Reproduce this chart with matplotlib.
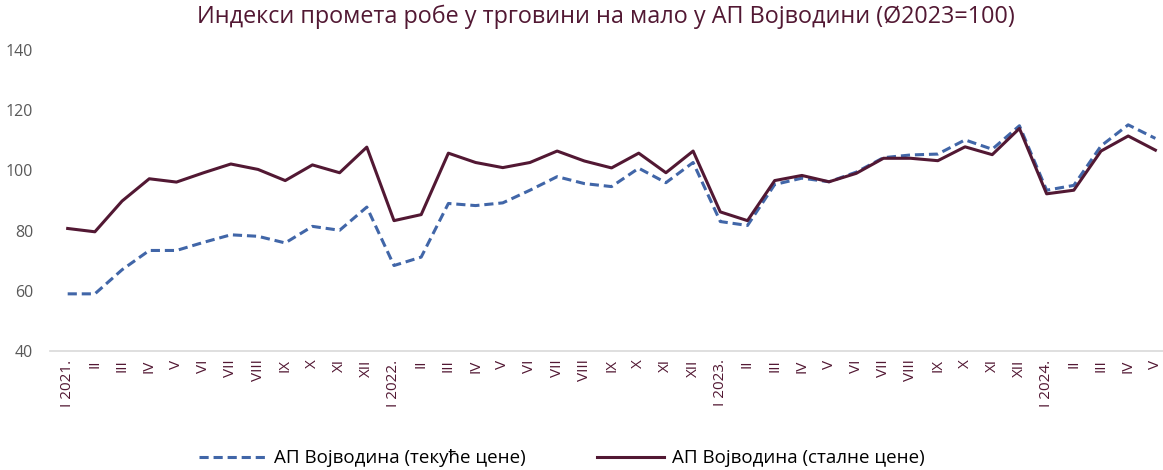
import numpy as np
import matplotlib
matplotlib.use('Agg')
import matplotlib.pyplot as plt

# Data: monthly indices, I 2021 - V 2024
months = ['I 2021.', 'II', 'III', 'IV', 'V', 'VI', 'VII', 'VIII', 'IX', 'X', 'XI', 'XII',
          'I 2022.', 'II', 'III', 'IV', 'V', 'VI', 'VII', 'VIII', 'IX', 'X', 'XI', 'XII',
          'I 2023.', 'II', 'III', 'IV', 'V', 'VI', 'VII', 'VIII', 'IX', 'X', 'XI', 'XII',
          'I 2024.', 'II', 'III', 'IV', 'V']

current_prices = [59.0, 59.0, 67.0, 73.4, 73.4, 76.1, 78.6, 78.1, 75.9, 81.4, 80.1, 87.8,
                  68.4, 71.2, 89.0, 88.3, 89.2, 93.4, 97.9, 95.6, 94.6, 100.7, 95.9, 102.6,
                  83.0, 81.7, 95.3, 97.4, 96.2, 99.4, 104.2, 105.1, 105.4, 110.1, 107.0, 114.8,
                  93.4, 95.0, 108.1, 115.1, 110.6]

constant_prices = [80.7, 79.6, 89.8, 97.2, 96.1, 99.2, 102.1, 100.3, 96.6, 101.8, 99.2, 107.7,
                   83.3, 85.3, 105.7, 102.6, 100.9, 102.6, 106.4, 103.1, 100.8, 105.7, 99.2, 106.4,
                   86.2, 83.3, 96.6, 98.3, 96.2, 99.0, 104.0, 104.0, 103.2, 107.8, 105.2, 113.9,
                   92.2, 93.4, 106.4, 111.4, 106.7]

maroon = '#521833'
blue = '#4166A8'

plt.rcParams['font.family'] = ['Open Sans', 'DejaVu Sans']

fig = plt.figure(figsize=(11.63, 4.70), dpi=100)
ax = fig.add_axes([0.043, 0.253, 0.957, 0.641])

x = np.arange(len(months))
ax.plot(x, current_prices, color=blue, lw=2.2, ls=(0, (3, 1.6)),
        label='АП Војводина (текуће цене)')
ax.plot(x, constant_prices, color=maroon, lw=2.2,
        label='АП Војводина (сталне цене)')

ax.set_xlim(-0.65, 40.28)
ax.set_ylim(40, 140)
ax.set_yticks([40, 60, 80, 100, 120, 140])
ax.set_xticks(x)
ax.set_xticklabels(months, rotation=90, color=maroon, fontsize=11)
ax.tick_params(axis='y', colors='#595959', labelsize=11.5, length=0, pad=12)
ax.tick_params(axis='x', length=0, pad=6)

for s in ['top', 'right', 'left']:
    ax.spines[s].set_visible(False)
ax.spines['bottom'].set_color('#D9D9D9')
ax.spines['bottom'].set_linewidth(1.2)

fig.suptitle('Индекси промета робе у трговини на мало у АП Војводини (Ø2023=100)',
             x=0.521, y=0.99, fontsize=16.8, color=maroon)

fig.legend(loc='lower center', bbox_to_anchor=(0.483, -0.03), ncol=2, frameon=False,
           fontsize=13.5, handlelength=3.6, columnspacing=3.8, handletextpad=0.4)

fig.savefig('out.png', dpi=100)
